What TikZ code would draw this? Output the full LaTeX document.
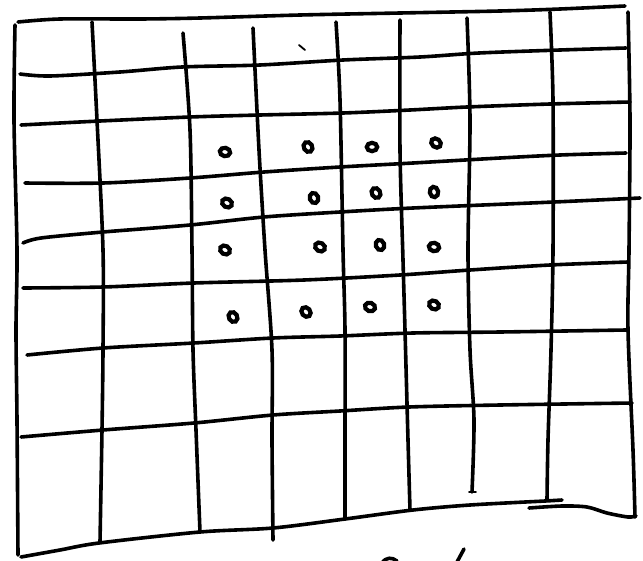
\documentclass[tikz,border=0pt]{standalone}
\begin{document}
\begin{tikzpicture}[x=1pt,y=-1pt,
  hand/.style={line width=3.6pt, line cap=round, line join=round, black},
  thinhand/.style={line width=1.8pt, line cap=round, black},
  dot/.style={line width=4.2pt, black}]
\useasboundingbox (0,0) rectangle (643,560);
\fill[white] (0,0) rectangle (643,560);
% vertical strokes
\draw[hand] plot[smooth] coordinates {(15,25) (14,120) (17,250) (16,330) (17,420) (18,555)};
\draw[hand] plot[smooth] coordinates {(92,22) (97,120) (103,250) (103,350) (102,430) (100,542)};
\draw[hand] plot[smooth] coordinates {(183,33) (190,130) (192,250) (193,350) (196,430) (200,532)};
\draw[hand] plot[smooth] coordinates {(253,28) (259,150) (265,250) (272,350) (272,440) (273,540)};
\draw[hand] plot[smooth] coordinates {(336,22) (340,100) (343,250) (345,330) (345,440) (345,519)};
\draw[hand] plot[smooth] coordinates {(400,20) (400,150) (403,260) (405,330) (408,440) (410,510)};
\draw[hand] plot[smooth] coordinates {(467,18) (470,120) (468,250) (470,350) (474,420) (472,492)};
\draw[thinhand] (469,492) -- (476,492);
\draw[hand] plot[smooth] coordinates {(550,12) (553,100) (553,250) (551,350) (548,440) (547,500)};
\draw[hand] plot[smooth] coordinates {(628,12) (630,120) (629,250) (628,330) (633,450) (635,517)};
% horizontal strokes
\draw[hand] plot[smooth] coordinates {(18,22) (60,19) (140,19) (200,18) (300,15) (400,13) (500,11) (560,9) (625,6)};
\draw[hand] plot[smooth] coordinates {(20,74) (50,76) (120,72) (182,67) (260,65) (343,60) (420,57) (479,53) (560,50) (626,48)};
\draw[hand] plot[smooth] coordinates {(21,125) (100,121) (190,117) (260,115) (343,113) (410,110) (467,107) (550,104) (630,102)};
\draw[hand] plot[smooth] coordinates {(25,183) (103,183) (190,178) (264,172) (340,167) (413,163) (500,158) (560,155) (626,153)};
\draw[hand] plot[smooth] coordinates {(23,243) (41,238) (103,232) (190,225) (264,217) (340,212) (413,208) (554,202) (640,198)};
\draw[hand] plot[smooth] coordinates {(23,288) (103,287) (194,283) (304,280) (400,275) (470,270) (550,265) (628,262)};
\draw[hand] plot[smooth] coordinates {(27,355) (103,348) (194,343) (273,338) (340,336) (413,333) (500,332) (626,330)};
\draw[hand] plot[smooth] coordinates {(21,437) (103,430) (194,423) (273,415) (340,411) (409,407) (500,405) (632,403)};
\draw[hand] plot[smooth] coordinates {(21,557) (60,550) (99,543) (200,532) (273,528) (345,519) (413,510) (470,505) (545,501) (562,500)};
\draw[hand] plot[smooth] coordinates {(529,508) (562,506) (587,507) (607,513) (628,517) (636,516)};
% small marks
\draw[thinhand] (299,45) -- (305,50);
\draw[hand] (382,563) .. controls (386,557) and (392,557) .. (397,561);
\draw[hand] (464,549) -- (457,562);
% dots
\foreach \x/\y/\r in {225/152/80, 308/147/30, 372/147/90, 436/143/50,
                      227/203/60, 314/198/20, 376/193/30, 434/192/10,
                      225/250/60, 320/247/60, 380/245/20, 434/247/80,
                      233/317/30, 306/312/40, 370/307/70, 434/305/60}
  \draw[dot] (\x,\y) ellipse [x radius=4.2pt, y radius=5.2pt, rotate=\r];
\end{tikzpicture}
\end{document}
